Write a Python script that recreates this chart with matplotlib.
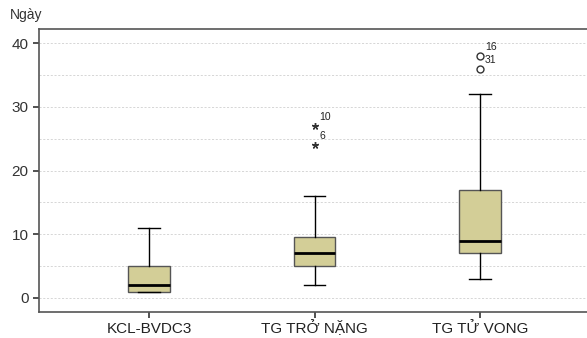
import matplotlib.pyplot as plt

plt.rcParams["font.family"] = ["Liberation Sans", "DejaVu Sans"]

groups = ["KCL-BVDC3", "TG TRỞ NẶNG", "TG TỬ VONG"]
q1 = [1, 5, 7]
med = [2, 7, 9]
q3 = [5, 9.5, 17]
wlo = [1, 2, 3]
whi = [11, 16, 32]
fliers = [[], [27, 24], [38, 36]]
flier_ids = [[], ["10", "6"], ["16", "31"]]
flier_marks = ["o", "*", "o"]

fig = plt.figure(figsize=(5.87, 3.38), dpi=100)
ax = fig.add_axes([0.0664, 0.0769, 0.9336, 0.837])

stats = []
for i in range(3):
    stats.append(dict(label=groups[i], q1=q1[i], med=med[i], q3=q3[i],
                      whislo=wlo[i], whishi=whi[i], fliers=[]))

ax.bxp(stats, positions=[1, 2, 3], widths=0.25, patch_artist=True,
       capwidths=0.13,
       boxprops=dict(facecolor="#d3ce97", edgecolor="#555555", linewidth=1),
       medianprops=dict(color="black", linewidth=2),
       whiskerprops=dict(color="black", linewidth=1),
       capprops=dict(color="black", linewidth=1),
       zorder=3)

for i in range(3):
    for v, lab in zip(fliers[i], flier_ids[i]):
        if flier_marks[i] == "*":
            ax.plot(i + 1, v, marker=(5, 2, 0), color="#333333", markersize=5,
                    linestyle="none", zorder=4)
        else:
            ax.plot(i + 1, v, marker="o", mfc="none", mec="#333333",
                    markersize=5, linestyle="none", zorder=4)
        ax.text(i + 1 + 0.03, v + 0.6, lab, fontsize=7.5, ha="left",
                va="bottom", color="#222222")

ax.set_xlim(0.335, 3.646)
ax.set_ylim(-2.2, 42.2)
ax.set_yticks([0, 10, 20, 30, 40])
for y in range(0, 45, 5):
    ax.axhline(y, color="#d0d0d0", linestyle=(0, (2.5, 2)), linewidth=0.6, zorder=0)

for s in ["left", "bottom", "top"]:
    ax.spines[s].set_color("#555555")
    ax.spines[s].set_linewidth(1.2)
ax.spines["right"].set_visible(False)
ax.tick_params(axis="both", labelsize=11, colors="#333333", length=4, width=1.2)
ax.tick_params(axis="x", labelcolor="#222222", pad=11)
for t in ax.get_xticklabels():
    t.set_verticalalignment("baseline")

fig.text(10 / 587, 1 - 15 / 338, "Ngày", fontsize=10, color="#333333",
         ha="left", va="center")

fig.savefig("out.png", dpi=100)
